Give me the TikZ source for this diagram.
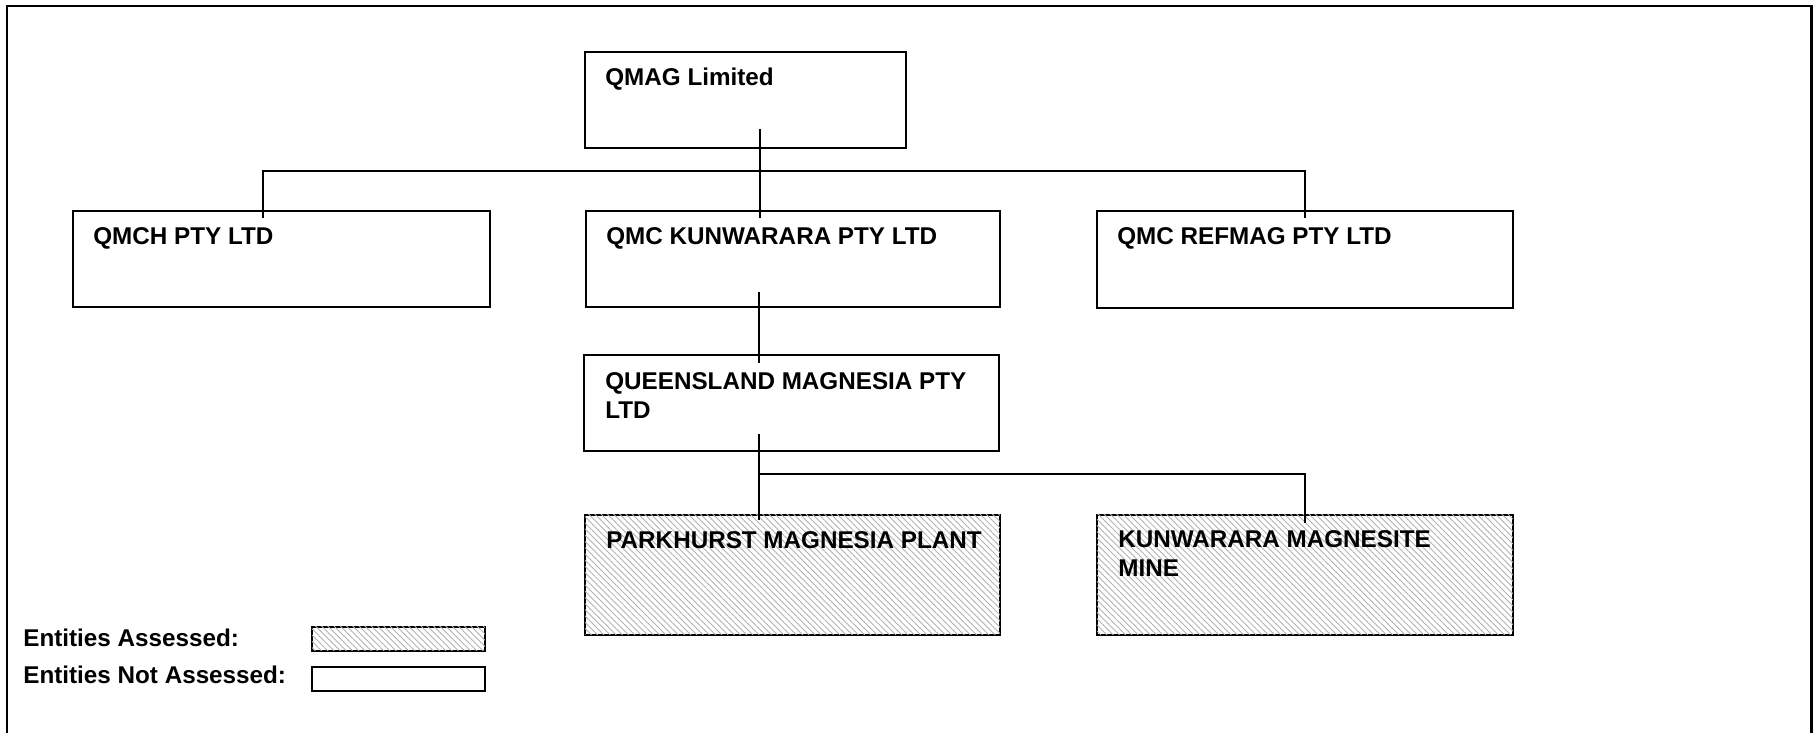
\documentclass[tikz,border=0pt]{standalone}
\usepackage{fontspec}
\setmainfont{Liberation Sans}
\usetikzlibrary{patterns.meta}
\begin{document}
\begin{tikzpicture}[x=0.02cm,y=-0.02cm,
  entity/.style={draw=black,line width=1.1pt,fill=white,anchor=north west,inner sep=0pt},
  assessed/.style={entity,postaction={pattern={Lines[angle=-45,distance=2.5pt,line width=0.5pt]},pattern color=gray!60}},
  lbl/.style={anchor=base west,inner sep=0pt,font=\fontsize{13.8pt}{17pt}\selectfont\bfseries},
  conn/.style={draw=black,line width=1.1pt}]
\useasboundingbox (0,0) rectangle (1813,733);
% outer frame
\draw[line width=1.7pt] (7,733) -- (7,6) -- (1811.5,6) -- (1811.5,733);
% boxes
\node[entity,minimum width=321*0.02cm,minimum height=96*0.02cm] (qmag) at (584,51) {};
\node[entity,minimum width=417*0.02cm,minimum height=96*0.02cm] (qmch) at (72,210) {};
\node[entity,minimum width=414*0.02cm,minimum height=96*0.02cm] (kun) at (585,210) {};
\node[entity,minimum width=416*0.02cm,minimum height=97*0.02cm] (ref) at (1096,210) {};
\node[entity,minimum width=415*0.02cm,minimum height=96*0.02cm] (qld) at (583,354) {};
\node[assessed,minimum width=415*0.02cm,minimum height=120*0.02cm] (park) at (584,514) {};
\node[assessed,minimum width=416*0.02cm,minimum height=120*0.02cm] (mine) at (1096,514) {};
% texts
\node[lbl] (tqmag) at (605,86) {QMAG Limited};
\node[lbl] (tqmch) at (93,245) {QMCH PTY LTD};
\node[lbl] (tkun) at (606,245) {QMC KUNWARARA PTY LTD};
\node[lbl] (tref) at (1117,245) {QMC REFMAG PTY LTD};
\node[lbl] (tqld) at (605,389) {\parbox[t]{10cm}{QUEENSLAND MAGNESIA PTY\\LTD}};
\node[lbl] (tpark) at (606,548) {PARKHURST MAGNESIA PLANT};
\node[lbl] (tmine) at (1118,547) {\parbox[t]{10cm}{KUNWARARA MAGNESITE\\MINE}};
% connector points
\coordinate (q1) at (760,129);
\coordinate (q2) at (760,218);
\coordinate (b1) at (263,171);
\coordinate (b2) at (1305,171);
\coordinate (c1) at (263,218);
\coordinate (c2) at (1305,218);
\coordinate (k1) at (759,292);
\coordinate (k2) at (759,363);
\coordinate (d1) at (759,434);
\coordinate (d2) at (759,520);
\coordinate (h1) at (759,474);
\coordinate (h2) at (1305,474);
\coordinate (m2) at (1305,523);
\draw[conn] (q1) -- (q2);
\draw[conn] (c1) -- (b1) -- (b2) -- (c2);
\draw[conn] (k1) -- (k2);
\draw[conn] (d1) -- (d2);
\draw[conn] (h1) -- (h2) -- (m2);
% legend
\node[lbl] (la) at (23,646) {Entities Assessed:};
\node[lbl] (ln) at (23,683) {Entities Not Assessed:};
\node[assessed,minimum width=173*0.02cm,minimum height=24*0.02cm] (lga) at (311,626) {};
\node[entity,minimum width=173*0.02cm,minimum height=24*0.02cm] (lgn) at (311,666) {};
\end{tikzpicture}
\end{document}
